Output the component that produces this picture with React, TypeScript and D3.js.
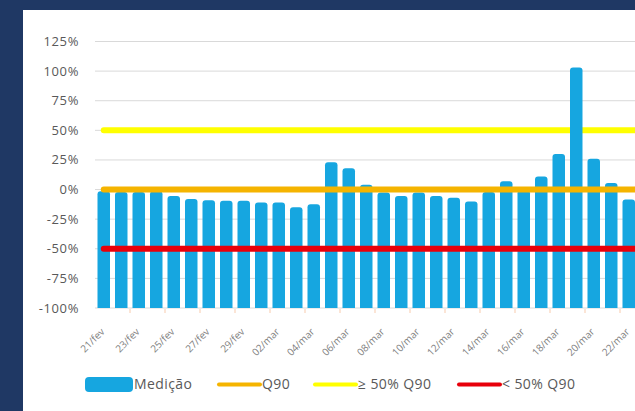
import React from 'react'
import * as d3 from 'd3'

// dias 21/fev .. 22/mar (2020, ano bissexto)
const dias = [
  '21/fev', '22/fev', '23/fev', '24/fev', '25/fev', '26/fev', '27/fev', '28/fev', '29/fev',
  '01/mar', '02/mar', '03/mar', '04/mar', '05/mar', '06/mar', '07/mar', '08/mar', '09/mar',
  '10/mar', '11/mar', '12/mar', '13/mar', '14/mar', '15/mar', '16/mar', '17/mar', '18/mar',
  '19/mar', '20/mar', '21/mar', '22/mar',
]
// medição relativa ao Q90 (%)
const medicao = [
  -1.5, -2, -2, -1.5, -5.5, -8, -9, -9.5, -9.5,
  -11, -11, -15, -12.5, 23, 18, 4, -2.5, -5.5,
  -2.5, -5.5, -7, -10, -2, 7, -0.5, 11, 30,
  103, 26, 5.5, -8.5,
]
const yTicks = [125, 100, 75, 50, 25, 0, -25, -50, -75, -100]
const refQ90 = 0
const refAcima = 50
const refAbaixo = -50

const W = 635
const H = 411

export default function App() {
  const x = d3.scaleBand<string>()
    .domain(dias)
    .range([95, 95 + dias.length * 17.5])
    .paddingInner(0.286)
    .paddingOuter(0.143)
  const y = d3.scaleLinear().domain([-100, 125]).range([308, 41.5])

  const font = '"Open Sans", sans-serif'
  const grey = '#595959'
  const blue = '#16a6e0'
  const orange = '#f5b400'
  const yellow = '#ffff00'
  const red = '#e8000b'

  const x0 = x(dias[0])! + x.bandwidth() / 2
  const x1 = x.range()[1]

  const barPath = (v: number, d: string) => {
    const left = x(d)!
    const w = x.bandwidth()
    const top = y(v)
    const bot = y(-100)
    const r = 3
    return `M${left},${bot}V${top + r}Q${left},${top} ${left + r},${top}H${left + w - r}Q${left + w},${top} ${left + w},${top + r}V${bot}Z`
  }

  const line = d3.line<[number, number]>()

  const legend = [
    { label: 'Medição', kind: 'bar', color: blue, x: 85 },
    { label: 'Q90', kind: 'line', color: orange, x: 217 },
    { label: '≥ 50% Q90', kind: 'line', color: yellow, x: 313 },
    { label: '< 50% Q90', kind: 'line', color: red, x: 457 },
  ]

  return (
    <svg width={W} height={H} style={{ position: 'absolute', left: 0, top: 0 }}>
      <rect x={0} y={0} width={W} height={H} fill="#1f3864" />
      <rect x={23} y={10} width={W - 23} height={H - 10} fill="#ffffff" />

      {/* grade */}
      {yTicks.map(t => (
        <g key={t}>
          <line x1={95} x2={W} y1={y(t)} y2={y(t)} stroke="#d9d9d9" strokeWidth={1} />
          <text x={79} y={y(t)} dy="0.35em" textAnchor="end" fontFamily={font} fontSize={13}
            letterSpacing={0.6} fill={grey}>{t}%</text>
        </g>
      ))}

      {/* linha ≥ 50% Q90 (por trás das barras) */}
      <path d={line([[x0, y(refAcima)], [x1, y(refAcima)]])!} stroke={yellow} strokeWidth={6} strokeLinecap="round" />

      {/* barras */}
      {medicao.map((v, i) => (
        <path key={dias[i]} d={barPath(v, dias[i])} fill={blue} />
      ))}

      <path d={line([[x0, y(refQ90)], [x1, y(refQ90)]])!} stroke={orange} strokeWidth={6} strokeLinecap="round" />
      <path d={line([[x0, y(refAbaixo)], [x1, y(refAbaixo)]])!} stroke={red} strokeWidth={6} strokeLinecap="round" />

      {/* eixo x */}
      {dias.map((d, i) => i % 2 === 0 && i > 0 ? (
        <line key={'t' + d} x1={x(d)! - 2.5} x2={x(d)! - 2.5} y1={309} y2={313} stroke="#f8cbad" />
      ) : null)}
      {dias.map((d, i) => i % 2 === 0 ? (
        <text key={'l' + d}
          transform={`translate(${x(d)! + x.bandwidth() / 2 - 1},${330}) rotate(-45)`}
          textAnchor="end" dy="0.35em" fontFamily={font} fontSize={10} fill="#7f7f7f">{d}</text>
      ) : null)}

      {/* legenda */}
      {legend.map(l => (
        <g key={l.label}>
          {l.kind === 'bar'
            ? <rect x={l.x} y={377} width={48} height={15} rx={4} fill={l.color} />
            : <line x1={l.x + 2} x2={l.x + 43} y1={384.5} y2={384.5} stroke={l.color} strokeWidth={4} strokeLinecap="round" />}
          <text x={l.x + (l.kind === 'bar' ? 49 : 45)} y={384.5} dy="0.35em" fontFamily={font} fontSize={14}
            letterSpacing={0.4} fill={grey}>{l.label}</text>
        </g>
      ))}
    </svg>
  )
}
